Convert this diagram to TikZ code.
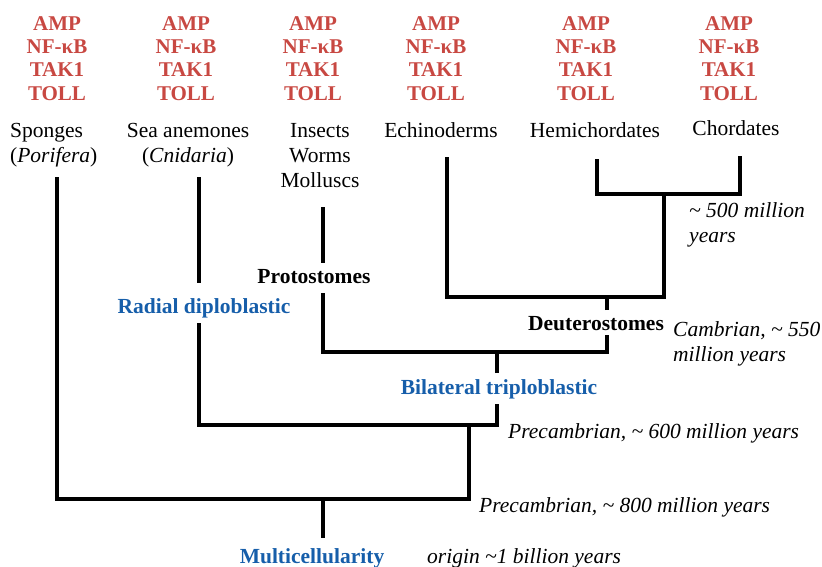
\documentclass[tikz,border=0pt]{standalone}
\usepackage{fontspec}
\setmainfont{Liberation Serif}
\definecolor{genered}{RGB}{200,72,66}
\definecolor{cladeblue}{RGB}{22,94,170}
\begin{document}
\begin{tikzpicture}[x=1pt,y=-1pt,
  branch/.style={line width=4.8pt, line join=miter, line cap=butt},
  genes/.style={font=\fontsize{21}{23.3}\selectfont\bfseries, text=genered, align=center, inner sep=0pt, anchor=base},
  taxon/.style={font=\fontsize{21.5}{25}\selectfont, align=center, inner sep=0pt, anchor=base},
  clade/.style={font=\fontsize{21.5}{25}\selectfont\bfseries, text=cladeblue, inner sep=0pt, anchor=base},
  group/.style={font=\fontsize{21.5}{25}\selectfont\bfseries, inner sep=0pt, anchor=base},
  era/.style={font=\fontsize{21.5}{24.5}\selectfont\itshape, align=left, inner sep=0pt, anchor=base west}]
\useasboundingbox (0,0) rectangle (822,566);

% gene labels (anchor = baseline of last line)
\node[genes] (g1) at (57,100) {AMP\\NF-κB\\TAK1\\TOLL};
\node[genes] (g2) at (186,100) {AMP\\NF-κB\\TAK1\\TOLL};
\node[genes] (g3) at (313,100) {AMP\\NF-κB\\TAK1\\TOLL};
\node[genes] (g4) at (436,100) {AMP\\NF-κB\\TAK1\\TOLL};
\node[genes] (g5) at (586,100) {AMP\\NF-κB\\TAK1\\TOLL};
\node[genes] (g6) at (729,100) {AMP\\NF-κB\\TAK1\\TOLL};

% taxa
\node[taxon, align=left, anchor=base west] (sponges) at (10,162) {Sponges\\(\textit{Porifera})};
\node[taxon] (cnid) at (188,162) {Sea anemones\\(\textit{Cnidaria})};
\node[taxon] (insects) at (320,187) {Insects\\Worms\\Molluscs};
\node[taxon] (echino) at (441,137) {Echinoderms};
\node[taxon] (hemi) at (595,137) {Hemichordates};
\node[taxon] (chord) at (736,135) {Chordates};

% clades
\node[clade] (radial) at (204,313) {Radial diploblastic};
\node[clade] (bilat) at (499,394) {Bilateral triploblastic};
\node[clade] (multi) at (312,563) {Multicellularity};
\node[group] (proto) at (314,283) {Protostomes};
\node[group] (deut) at (596,330) {Deuterostomes};

% eras
\node[era] (e500) at (689,242) {\textasciitilde{} 500 million\\years};
\node[era] (e550) at (673,361) {Cambrian, \textasciitilde{} 550\\million years};
\node[era] (e600) at (508,438) {Precambrian, \textasciitilde{} 600 million years};
\node[era] (e800) at (479,512) {Precambrian, \textasciitilde{} 800 million years};
\node[era] (e1000) at (427,563) {origin \textasciitilde1 billion years};

% tree coordinates
\coordinate (spT) at (57,177);
\coordinate (spB) at (57,499);
\coordinate (rootR) at (469,499);
\coordinate (rootM) at (323,499);
\coordinate (rootB) at (323,538);
\coordinate (metaJ) at (469,425);
\coordinate (cnT) at (199,177);
\coordinate (cnU) at (199,283);
\coordinate (cnL) at (199,323);
\coordinate (cnB) at (199,425);
\coordinate (biB) at (497,425);
\coordinate (biL) at (497,404);
\coordinate (biU) at (497,373);
\coordinate (biJ) at (497,352);
\coordinate (prT) at (323,207);
\coordinate (prU) at (323,263);
\coordinate (prL) at (323,293);
\coordinate (prB) at (323,352);
\coordinate (deB) at (607,352);
\coordinate (deL) at (607,335);
\coordinate (deU) at (607,310);
\coordinate (deJ) at (607,297);
\coordinate (ecT) at (447,157);
\coordinate (ecB) at (447,297);
\coordinate (chJ) at (664,297);
\coordinate (chU) at (664,194);
\coordinate (heT) at (597,159);
\coordinate (heB) at (597,194);
\coordinate (coB) at (740,194);
\coordinate (coT) at (740,156);

\draw[branch] (spT) -- (spB) -- (rootR) -- (metaJ);
\draw[branch] (rootM) -- (rootB);
\draw[branch] (cnT) -- (cnU);
\draw[branch] (cnL) -- (cnB) -- (biB) -- (biL);
\draw[branch] (biU) -- (biJ);
\draw[branch] (prT) -- (prU);
\draw[branch] (prL) -- (prB) -- (deB) -- (deL);
\draw[branch] (deU) -- (deJ);
\draw[branch] (ecT) -- (ecB) -- (chJ) -- (chU);
\draw[branch] (heT) -- (heB) -- (coB) -- (coT);
\end{tikzpicture}
\end{document}
